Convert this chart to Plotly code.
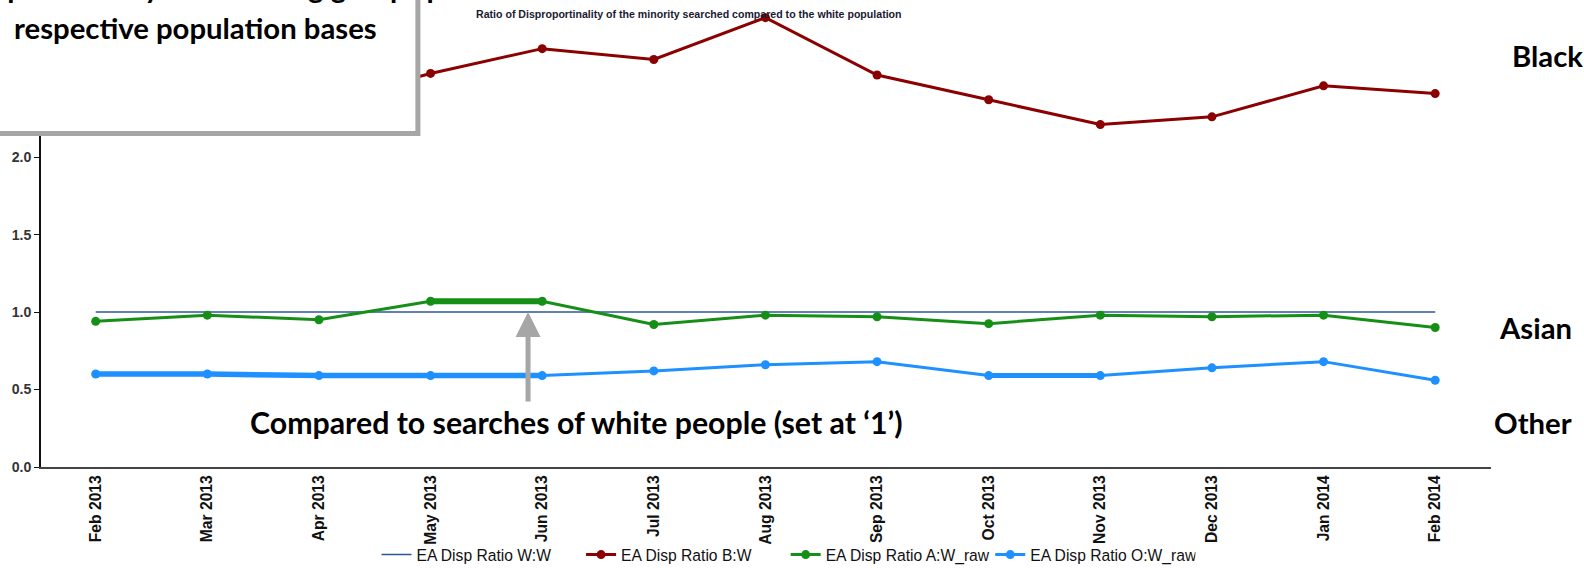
import plotly.graph_objects as go

months = ["Feb 2013", "Mar 2013", "Apr 2013", "May 2013", "Jun 2013", "Jul 2013",
          "Aug 2013", "Sep 2013", "Oct 2013", "Nov 2013", "Dec 2013", "Jan 2014", "Feb 2014"]
ratio_ww = [1.0, 1.0, 1.0, 1.0, 1.0, 1.0, 1.0, 1.0, 1.0, 1.0, 1.0, 1.0, 1.0]
ratio_bw = [2.40, 2.30, 2.35, 2.54, 2.70, 2.63, 2.90, 2.53, 2.37, 2.21, 2.26, 2.46, 2.41]
ratio_aw = [0.94, 0.98, 0.95, 1.07, 1.07, 0.92, 0.98, 0.97, 0.925, 0.98, 0.97, 0.98, 0.90]
ratio_ow = [0.60, 0.60, 0.59, 0.59, 0.59, 0.62, 0.66, 0.68, 0.59, 0.59, 0.64, 0.68, 0.56]
yticks = [0.0, 0.5, 1.0, 1.5, 2.0]

C_W = "#2b5797"
C_B = "#8b0000"
C_A = "#168f16"
C_O = "#1e90ff"

# the photographed page comes out at ~0.99 scale, so build the figure slightly larger
S = 1600 / 1584
W, H = 1584, 568
L, R = 41, 1476
T, B = 0, 462
X_RANGE = [-0.49, 12.5]
Y_RANGE = [0, 3.014]

def px_x(p):
    return (p - L) / (R - L)

def px_y(p):
    return (B - p) / (B - T)

def s(v):
    return v * S

fig = go.Figure()
fig.add_trace(go.Scatter(x=months, y=ratio_ww, mode="lines", name="EA Disp Ratio W:W",
                         line=dict(color=C_W, width=1.5)))
fig.add_trace(go.Scatter(x=months, y=ratio_bw, mode="lines+markers", name="EA Disp Ratio B:W",
                         line=dict(color=C_B, width=3), marker=dict(color=C_B, size=9)))
fig.add_trace(go.Scatter(x=months, y=ratio_aw, mode="lines+markers", name="EA Disp Ratio A:W_raw",
                         line=dict(color=C_A, width=3), marker=dict(color=C_A, size=9)))
fig.add_trace(go.Scatter(x=months, y=ratio_ow, mode="lines+markers", name="EA Disp Ratio O:W_raw",
                         line=dict(color=C_O, width=3), marker=dict(color=C_O, size=9)))
# thicker segments seen in the original rendering
fig.add_trace(go.Scatter(x=months[3:5], y=ratio_aw[3:5], mode="lines", showlegend=False,
                         line=dict(color=C_A, width=6), hoverinfo="skip"))
fig.add_trace(go.Scatter(x=months[0:5], y=ratio_ow[0:5], mode="lines", showlegend=False,
                         line=dict(color=C_O, width=5.5), hoverinfo="skip"))
fig.add_trace(go.Scatter(x=months[8:10], y=ratio_ow[8:10], mode="lines", showlegend=False,
                         line=dict(color=C_O, width=5), hoverinfo="skip"))

fig.add_shape(type="rect", xref="paper", yref="paper",
              x0=px_x(-10), x1=px_x(414), y0=px_y(132), y1=px_y(-10),
              fillcolor="white", line=dict(color="#a6a6a6", width=5), layer="above")

big = dict(family="Lato, 'Open Sans', sans-serif", size=s(29), color="black")
ann = [
    dict(text="<b>Disproportionality of searching groups per</b>", x=px_x(194), y=px_y(-13.5),
         xref="paper", yref="paper", showarrow=False, font=big, xanchor="center", yanchor="middle"),
    dict(text="<b>respective population bases</b>", x=px_x(194), y=px_y(27),
         xref="paper", yref="paper", showarrow=False, font=big, xanchor="center", yanchor="middle"),
    dict(text="<b>Black</b>", x=px_x(1532), y=px_y(55), xref="paper", yref="paper",
         showarrow=False, font=big, xanchor="center", yanchor="middle"),
    dict(text="<b>Asian</b>", x=px_x(1520), y=px_y(324), xref="paper", yref="paper",
         showarrow=False, font=big, xanchor="center", yanchor="middle"),
    dict(text="<b>Other</b>", x=px_x(1518), y=px_y(418), xref="paper", yref="paper",
         showarrow=False, font=big, xanchor="center", yanchor="middle"),
    dict(text="<b>Compared to searches of white people (set at \u20181\u2019)</b>", x=px_x(571), y=px_y(417),
         xref="paper", yref="paper", showarrow=False, font=dict(big, size=s(30)),
         xanchor="center", yanchor="middle"),
    dict(text="", x=px_x(523), y=1.0, xref="paper", yref="y", showarrow=True,
         arrowhead=2, arrowsize=1, arrowwidth=5, arrowcolor="#a6a6a6", ax=0, ay=s(90), standoff=0),
    dict(text="<b>Ratio of Disproportinality of the minority searched compared to the white population</b>",
         x=px_x(682), y=px_y(14), xref="paper", yref="paper", showarrow=False,
         font=dict(family="Arial, 'Liberation Sans', sans-serif", size=s(10.5), color="#1a1a33"),
         xanchor="center", yanchor="middle"),
]

fig.update_layout(
    width=round(s(W)), height=round(s(H)),
    margin=dict(l=s(L), r=s(W - R), t=s(T), b=s(H - B), pad=0, autoexpand=False),
    paper_bgcolor="white", plot_bgcolor="white",
    showlegend=True,
    legend=dict(orientation="h", x=px_x(373), y=px_y(549), xanchor="left", yanchor="middle",
                font=dict(family="Arial, 'Liberation Sans', sans-serif", size=s(15.5), color="#111"),
                entrywidth=s(158), entrywidthmode="pixels", itemwidth=30, bgcolor="rgba(0,0,0,0)",
                traceorder="normal"),
    annotations=ann,
    xaxis=dict(type="category", range=X_RANGE, showgrid=False, zeroline=False, automargin=False,
               showline=True, linecolor="#444", linewidth=2, ticks="", tickangle=-90,
               tickfont=dict(family="Arial, 'Liberation Sans', sans-serif", size=s(15.5), color="#111",
                             weight="bold")),
    yaxis=dict(range=Y_RANGE, showgrid=False, zeroline=False, showline=True, linecolor="#111",
               linewidth=1.5, ticks="outside", ticklen=5, tickcolor="#111", automargin=False,
               tickvals=yticks, ticktext=["%.1f" % v for v in yticks],
               tickfont=dict(family="Arial, 'Liberation Sans', sans-serif", size=s(14), color="#333",
                             weight="bold")),
)

fig.write_html("out.html", config={"displayModeBar": False},
               post_script="document.body.style.margin='0';document.body.style.overflow='hidden';")
